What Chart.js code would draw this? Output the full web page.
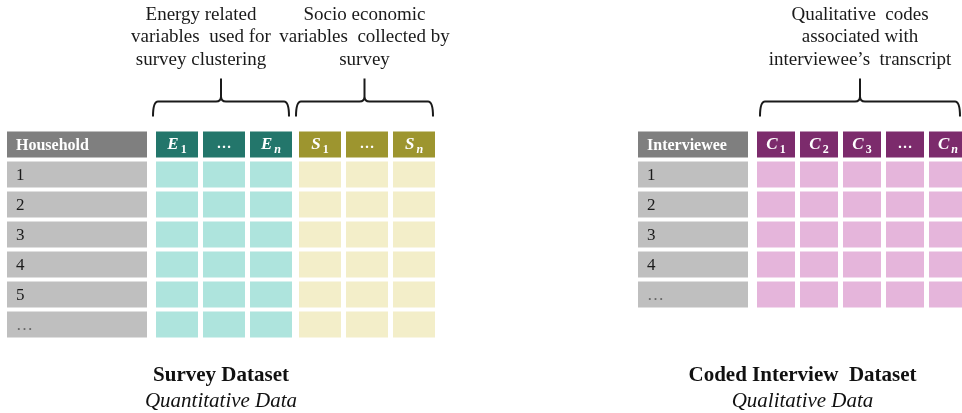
<!DOCTYPE html>
<html>
<head>
    <title>Survey and interview datasets</title>
    <script src="https://cdn.jsdelivr.net/npm/chart.js"></script>
    <style>body { margin: 0; background: #fff; }</style>
</head>
<body>
<div style="width:962px; height:413px; position:relative;">
    <canvas id="myChart"></canvas>
</div>
<script>
    // row keys on the category axis: header row + data rows
    const rowKeys = ['head', 'r1', 'r2', 'r3', 'r4', 'r5', 'r6'];
    const surveyRows = ['1', '2', '3', '4', '5', '…'];
    const interviewRows = ['1', '2', '3', '4', '…'];

    const surveyIdLabel = 'Household';
    const interviewIdLabel = 'Interviewee';
    const energyVars = [['E', '1'], ['…', ''], ['E', 'n']];
    const socioVars = [['S', '1'], ['…', ''], ['S', 'n']];
    const codeVars = [['C', '1'], ['C', '2'], ['C', '3'], ['…', ''], ['C', 'n']];

    const energyNote = ['Energy related', 'variables  used for', 'survey clustering'];
    const socioNote = ['Socio economic', 'variables  collected by', 'survey'];
    const codesNote = ['Qualitative  codes', 'associated with', 'interviewee’s  transcript'];

    const surveyTitle = ['Survey Dataset', 'Quantitative Data'];
    const interviewTitle = ['Coded Interview  Dataset', 'Qualitative Data'];

    // layout (x axis runs 0..962)
    const lay = {
        surveyId: [7, 147], energyStart: 156, socioStart: 299, colW: 42, colStep: 47,
        interviewId: [638, 748], codeStart: 757, codeW: 38, codeStep: 43
    };
    const serif = "'Liberation Serif', 'Times New Roman', serif";

    function column(span, nRows, headColor, cellColor, extra) {
        return Object.assign({
            data: rowKeys.map((k, i) => i <= nRows ? span : null),
            backgroundColor: rowKeys.map((k, i) => i === 0 ? headColor : cellColor),
            borderWidth: 0,
            borderSkipped: false,
            grouped: false,
            barPercentage: 0.86,
            categoryPercentage: 1
        }, extra);
    }

    const datasets = [];
    datasets.push(column(lay.surveyId, surveyRows.length, '#7f7f7f', '#bfbfbf',
        {head: surveyIdLabel, rows: surveyRows}));
    energyVars.forEach((v, i) => {
        const x0 = lay.energyStart + i * lay.colStep;
        datasets.push(column([x0, x0 + lay.colW], surveyRows.length, '#23766b', '#aee4dd', {sym: v, group: 'energy'}));
    });
    socioVars.forEach((v, i) => {
        const x0 = lay.socioStart + i * lay.colStep;
        datasets.push(column([x0, x0 + lay.colW], surveyRows.length, '#9d952f', '#f3eec9', {sym: v, group: 'socio'}));
    });
    datasets.push(column(lay.interviewId, interviewRows.length, '#7f7f7f', '#bfbfbf',
        {head: interviewIdLabel, rows: interviewRows}));
    codeVars.forEach((v, i) => {
        const x0 = lay.codeStart + i * lay.codeStep;
        datasets.push(column([x0, x0 + lay.codeW], interviewRows.length, '#7c2b6c', '#e5b5db', {sym: v, group: 'codes'}));
    });

    function brace(ctx, x0, x1, xm, yTop, yMid, yEnd) {
        const r = 5;
        ctx.beginPath();
        ctx.moveTo(x0, yEnd);
        ctx.quadraticCurveTo(x0, yMid, x0 + r, yMid);
        ctx.lineTo(xm - r, yMid);
        ctx.quadraticCurveTo(xm, yMid, xm, yMid - r);
        ctx.lineTo(xm, yTop);
        ctx.moveTo(x1, yEnd);
        ctx.quadraticCurveTo(x1, yMid, x1 - r, yMid);
        ctx.lineTo(xm + r, yMid);
        ctx.quadraticCurveTo(xm, yMid, xm, yMid - r);
        ctx.stroke();
    }

    const diagramPlugin = {
        id: 'diagram',
        afterDatasetsDraw(chart) {
            const ctx = chart.ctx;
            const spans = {};
            let tableTop = chart.chartArea.bottom;
            ctx.save();
            chart.data.datasets.forEach((ds, di) => {
                const meta = chart.getDatasetMeta(di);
                meta.data.forEach((el, i) => {
                    if (ds.data[i] == null) return;
                    const p = el.getProps(['x', 'y', 'base', 'height'], true);
                    const left = Math.min(p.x, p.base), right = Math.max(p.x, p.base);
                    const cx = (left + right) / 2;
                    if (i === 0) {
                        tableTop = Math.min(tableTop, p.y - p.height / 2);
                        if (ds.group) {
                            const s = spans[ds.group] || (spans[ds.group] = [left, right]);
                            s[0] = Math.min(s[0], left); s[1] = Math.max(s[1], right);
                        }
                        ctx.fillStyle = '#fff';
                        ctx.textBaseline = 'middle';
                        if (ds.head) {
                            ctx.font = 'bold 16px ' + serif;
                            ctx.textAlign = 'left';
                            ctx.fillText(ds.head, left + 9, p.y + 1);
                        } else if (ds.sym) {
                            const [b, sub] = ds.sym;
                            if (!sub) {
                                ctx.font = 'bold 15px ' + serif;
                                ctx.textAlign = 'center';
                                ctx.fillText(b, cx, p.y);
                            } else {
                                const bFont = 'bold italic 17px ' + serif;
                                const sFont = (/[0-9]/.test(sub) ? 'bold ' : 'bold italic ') + '12px ' + serif;
                                ctx.font = bFont; const w1 = ctx.measureText(b).width;
                                ctx.font = sFont; const w2 = ctx.measureText(sub).width;
                                const sx = cx - (w1 + w2 + 2) / 2;
                                ctx.textAlign = 'left';
                                ctx.font = bFont; ctx.fillText(b, sx, p.y);
                                ctx.font = sFont; ctx.fillText(sub, sx + w1 + 2, p.y + 5);
                            }
                        }
                    } else if (ds.rows) {
                        const t = ds.rows[i - 1];
                        ctx.fillStyle = t === '…' ? '#666' : '#1a1a1a';
                        ctx.font = '17px ' + serif;
                        ctx.textAlign = 'left';
                        ctx.textBaseline = 'middle';
                        ctx.fillText(t, left + 9, p.y + 1);
                    }
                });
            });

            // braces and notes above the variable groups
            const yEnd = tableTop - 15, yMid = tableTop - 30, yTop = tableTop - 53;
            ctx.strokeStyle = '#1a1a1a';
            ctx.lineWidth = 2;
            // [group, lines, text shift, brace left inset, brace right inset]
            const notes = [['energy', energyNote, -20, -3, 3], ['socio', socioNote, 0, -3, 2], ['codes', codesNote, 0, 3, 0]];
            notes.forEach(([g, lines, shift, inL, inR]) => {
                const s = spans[g];
                const x0 = s[0] + inL, x1 = Math.min(s[1] - inR, chart.width - 2);
                const xm = (x0 + x1) / 2;
                brace(ctx, x0, x1, xm, yTop, yMid, yEnd);
                ctx.fillStyle = '#1a1a1a';
                ctx.font = '19px ' + serif;
                ctx.textAlign = 'center';
                ctx.textBaseline = 'middle';
                lines.forEach((t, k) => {
                    ctx.fillText(t, xm + shift, yTop - 19 - (lines.length - 1 - k) * 22.5);
                });
            });

            // dataset titles under the tables
            const xs = chart.scales.x;
            const titles = [
                [surveyTitle, (lay.surveyId[0] + lay.socioStart + 2 * lay.colStep + lay.colW) / 2],
                [interviewTitle, (lay.interviewId[0] + lay.codeStart + 4 * lay.codeStep + lay.codeW) / 2]
            ];
            titles.forEach(([t, v]) => {
                const cx = xs.getPixelForValue(v);
                ctx.fillStyle = '#111';
                ctx.textAlign = 'center';
                ctx.textBaseline = 'middle';
                ctx.font = 'bold 21px ' + serif;
                ctx.fillText(t[0], cx, 376);
                ctx.font = 'italic 21px ' + serif;
                ctx.fillText(t[1], cx, 401);
            });
            ctx.restore();
        }
    };

    new Chart(document.getElementById('myChart').getContext('2d'), {
        type: 'bar',
        data: {labels: rowKeys, datasets: datasets},
        options: {
            indexAxis: 'y',
            responsive: true,
            maintainAspectRatio: false,
            animation: false,
            layout: {padding: {top: 129.5, bottom: 73.5, left: 0, right: 0}},
            scales: {
                x: {type: 'linear', min: 0, max: 962, display: false},
                y: {display: false}
            },
            plugins: {legend: {display: false}, tooltip: {enabled: false}}
        },
        plugins: [diagramPlugin]
    });
</script>
</body>
</html>
